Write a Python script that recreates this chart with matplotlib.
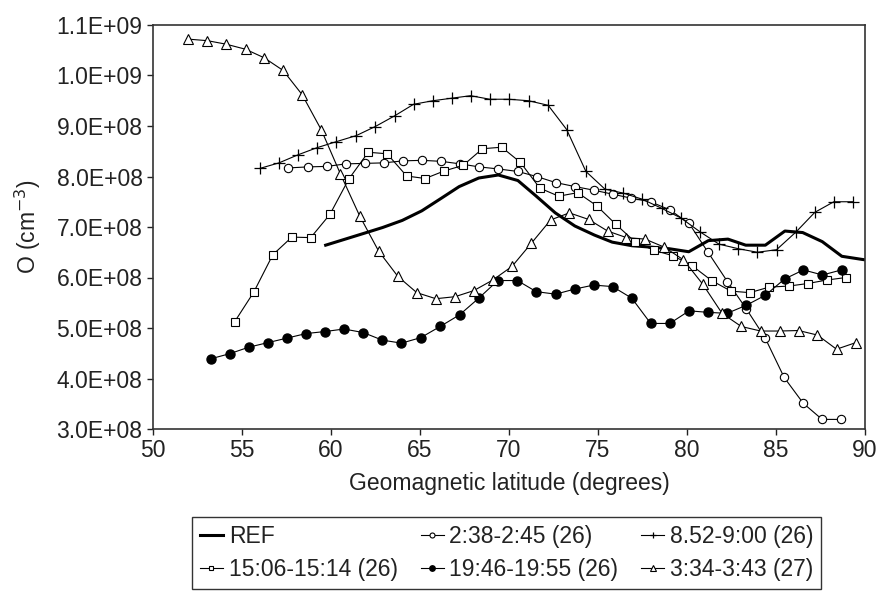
import matplotlib
matplotlib.use('Agg')
import matplotlib.pyplot as plt
from matplotlib.ticker import FuncFormatter, MultipleLocator

plt.rcParams['font.family'] = ['Liberation Sans', 'DejaVu Sans']

# Data (densities in units of 1e8 cm^-3)
ref_lat = [59.7, 60.8, 61.9, 62.9, 64.0, 65.1, 66.2, 67.2, 68.3, 69.4, 70.5, 71.5,
           72.6, 73.7, 74.8, 75.8, 76.9, 78.0, 79.0, 80.1, 81.2, 82.3, 83.3, 84.4,
           85.5, 86.5, 87.6, 88.7, 89.8, 90.0]
ref_val = [6.64, 6.76, 6.88, 6.99, 7.13, 7.32, 7.57, 7.80, 7.97, 8.03, 7.92, 7.62,
           7.28, 7.02, 6.84, 6.70, 6.63, 6.60, 6.57, 6.51, 6.73, 6.76, 6.64, 6.64,
           6.92, 6.89, 6.71, 6.42, 6.36, 6.35]

c0238_lat = [57.61, 58.69, 59.76, 60.84, 61.91, 62.97, 64.06, 65.13, 66.19, 67.26,
             68.32, 69.39, 70.49, 71.55, 72.62, 73.71, 74.75, 75.82, 76.88, 77.95,
             79.03, 80.12, 81.18, 82.27, 83.33, 84.38, 85.46, 86.53, 87.59, 88.66]
c0238_val = [8.17, 8.19, 8.20, 8.25, 8.26, 8.27, 8.31, 8.32, 8.30, 8.25,
             8.19, 8.15, 8.10, 8.00, 7.88, 7.80, 7.73, 7.65, 7.57, 7.50,
             7.34, 7.07, 6.50, 5.92, 5.38, 4.81, 4.02, 3.51, 3.19, 3.19]

c0852_lat = [56.00, 57.08, 58.15, 59.21, 60.30, 61.42, 62.49, 63.57, 64.64, 65.72,
             66.77, 67.84, 68.92, 69.99, 71.10, 72.20, 73.24, 74.32, 75.39, 76.43,
             77.49, 78.58, 79.65, 80.75, 81.80, 82.88, 83.95, 85.03, 86.12, 87.18,
             88.25, 89.32]
c0852_val = [8.16, 8.27, 8.43, 8.57, 8.69, 8.81, 8.99, 9.20, 9.43, 9.50,
             9.55, 9.60, 9.53, 9.53, 9.50, 9.41, 8.93, 8.10, 7.75, 7.67,
             7.55, 7.37, 7.18, 6.90, 6.66, 6.57, 6.50, 6.55, 6.90, 7.29,
             7.50, 7.50]

c1506_lat = [54.58, 55.66, 56.73, 57.80, 58.86, 59.94, 61.00, 62.09, 63.15, 64.25,
             65.29, 66.36, 67.42, 68.51, 69.59, 70.64, 71.73, 72.79, 73.86, 74.93,
             76.01, 77.07, 78.14, 79.22, 80.30, 81.38, 82.47, 83.53, 84.62, 85.71,
             86.77, 87.86, 88.94]
c1506_val = [5.12, 5.71, 6.45, 6.80, 6.79, 7.25, 7.95, 8.48, 8.45, 8.01,
             7.96, 8.11, 8.22, 8.55, 8.58, 8.28, 7.77, 7.61, 7.68, 7.42,
             7.05, 6.71, 6.54, 6.43, 6.23, 5.94, 5.73, 5.70, 5.81, 5.83,
             5.88, 5.95, 6.00]

c1946_lat = [53.24, 54.30, 55.38, 56.45, 57.53, 58.60, 59.66, 60.73, 61.81, 62.88,
             63.96, 65.05, 66.13, 67.22, 68.30, 69.37, 70.47, 71.53, 72.62, 73.68,
             74.75, 75.82, 76.90, 77.96, 79.03, 80.12, 81.18, 82.25, 83.33, 84.41,
             85.48, 86.54, 87.61, 88.68]
c1946_val = [4.39, 4.49, 4.62, 4.71, 4.80, 4.89, 4.93, 4.98, 4.91, 4.76,
             4.70, 4.81, 5.03, 5.26, 5.59, 5.94, 5.94, 5.72, 5.67, 5.77,
             5.85, 5.82, 5.59, 5.09, 5.09, 5.34, 5.31, 5.29, 5.45, 5.65,
             5.97, 6.15, 6.05, 6.15]

c0334_lat = [51.98, 53.05, 54.11, 55.20, 56.25, 57.31, 58.38, 59.46, 60.53, 61.61,
             62.68, 63.76, 64.82, 65.89, 66.97, 68.02, 69.09, 70.17, 71.26, 72.34,
             73.39, 74.47, 75.54, 76.60, 77.65, 78.73, 79.80, 80.88, 81.97, 83.05,
             84.14, 85.20, 86.27, 87.33, 88.40, 89.48]
c0334_val = [10.72, 10.69, 10.62, 10.52, 10.35, 10.10, 9.62, 8.92, 8.05, 7.22,
             6.52, 6.02, 5.70, 5.58, 5.62, 5.74, 5.95, 6.22, 6.68, 7.14,
             7.28, 7.15, 6.92, 6.79, 6.76, 6.60, 6.35, 5.87, 5.29, 5.03,
             4.94, 4.94, 4.95, 4.86, 4.58, 4.71]

labels = ['REF', '2:38-2:45 (26)', '8.52-9:00 (26)',
          '15:06-15:14 (26)', '19:46-19:55 (26)', '3:34-3:43 (27)']

FS = 16.5
TXT = '#222222'

def scaled(v):
    return [x * 1e8 for x in v]

fig = plt.figure(figsize=(8.8, 5.91), dpi=100)
ax = fig.add_axes([153 / 880, 1 - 429 / 591, 712 / 880, 404 / 591])

thin = dict(color='black', lw=0.8)
h_ref, = ax.plot(ref_lat, scaled(ref_val), color='black', lw=2.2, label=labels[0])
h1, = ax.plot(c0238_lat, scaled(c0238_val), marker='o', ms=6, mfc='white', mec='black',
              mew=0.8, label=labels[1], **thin)
h2, = ax.plot(c0852_lat, scaled(c0852_val), marker='+', ms=8, mec='black', mew=0.9,
              label=labels[2], **thin)
h3, = ax.plot(c1506_lat, scaled(c1506_val), marker='s', ms=6, mfc='white', mec='black',
              mew=0.8, label=labels[3], **thin)
h4, = ax.plot(c1946_lat, scaled(c1946_val), marker='o', ms=6.5, mfc='black', mec='black',
              label=labels[4], **thin)
h5, = ax.plot(c0334_lat, scaled(c0334_val), marker='^', ms=6.5, mfc='white', mec='black',
              mew=0.8, label=labels[5], **thin)

ax.set_xlim(50, 90)
ax.set_ylim(3e8, 1.1e9)
ax.xaxis.set_major_locator(MultipleLocator(5))
ax.yaxis.set_major_locator(MultipleLocator(1e8))
ax.yaxis.set_major_formatter(FuncFormatter(lambda v, p: f'{v:.1E}'))
ax.tick_params(direction='out', length=4, width=1, labelsize=FS, colors=TXT)
for s in ax.spines.values():
    s.set_linewidth(1.2)
    s.set_color('#333333')

ax.set_xlabel('Geomagnetic latitude (degrees)', fontsize=FS, color=TXT, labelpad=7)
ax.set_ylabel('O (cm$^{-3}$)', fontsize=FS, color=TXT, labelpad=10)

order = [h_ref, h3, h1, h4, h2, h5]
leg = fig.legend(order, [h.get_label() for h in order], ncol=3, loc='upper left',
                 bbox_to_anchor=(192 / 880, 1 - 517 / 591),
                 fontsize=FS, frameon=True, fancybox=False,
                 edgecolor='black', handlelength=1.0, handletextpad=0.25,
                 markerscale=0.6, borderaxespad=0, borderpad=0.35,
                 labelspacing=0.45, columnspacing=1.0)
leg.get_frame().set_linewidth(1.0)
for t in leg.get_texts():
    t.set_color(TXT)

fig.savefig('out.png', dpi=100)
